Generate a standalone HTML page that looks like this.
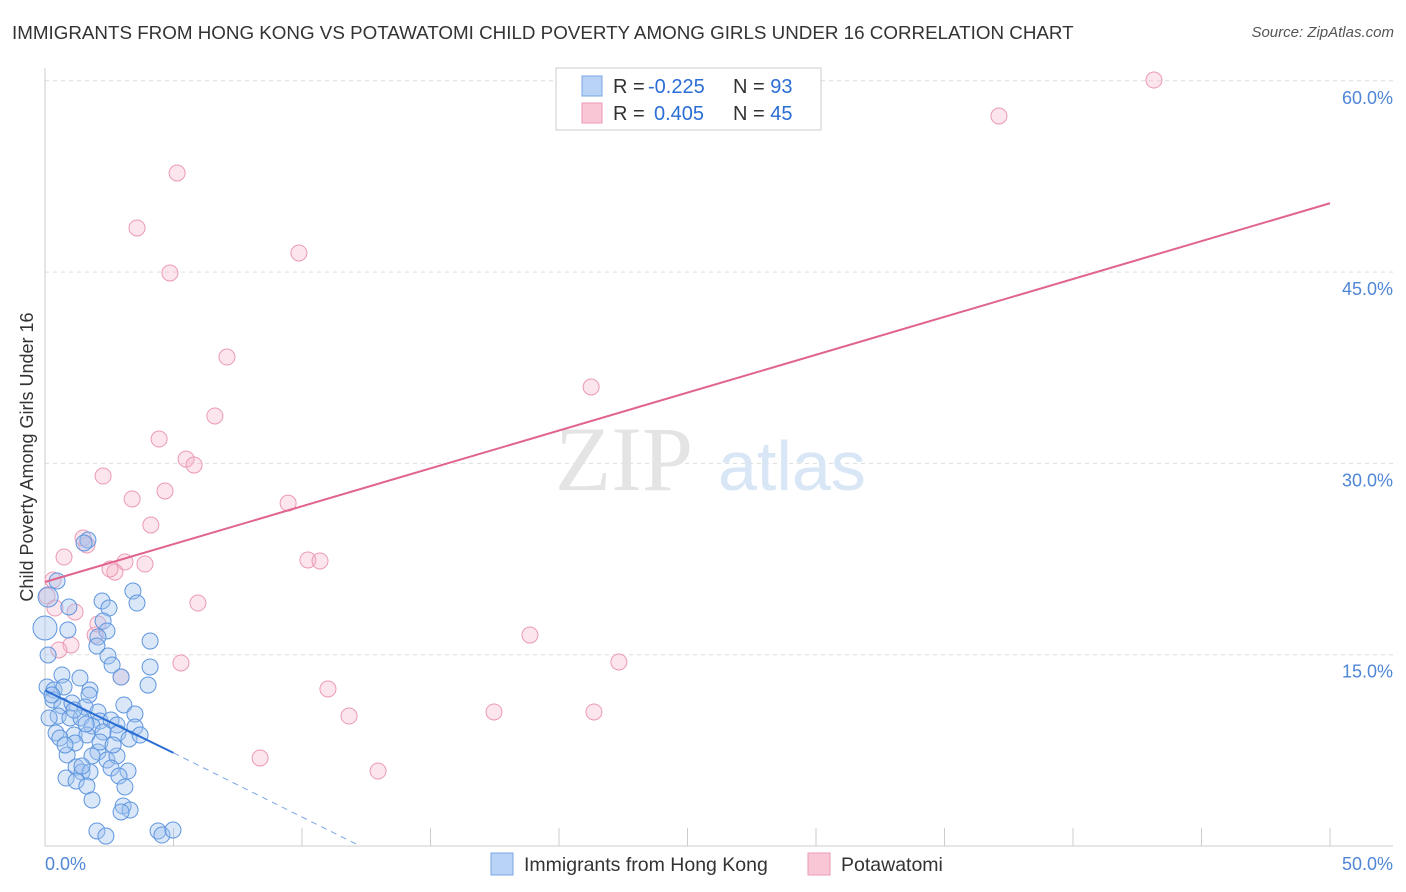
<!DOCTYPE html>
<html><head><meta charset="utf-8"><style>
body{margin:0;background:#fff;font-family:"Liberation Sans",sans-serif;}
#wrap{position:relative;width:1406px;height:892px;overflow:hidden;}
.t{position:absolute;white-space:nowrap;}
</style></head><body>
<div id="wrap">
<div class="t" style="left:12px;top:22px;font-size:18.8px;color:#333;">IMMIGRANTS FROM HONG KONG VS POTAWATOMI CHILD POVERTY AMONG GIRLS UNDER 16 CORRELATION CHART</div>
<div class="t" style="right:12px;top:24px;font-size:15px;color:#555;font-style:italic;">Source: ZipAtlas.com</div>
<svg id="chart" width="1406" height="892" style="position:absolute;left:0;top:0"></svg>
</div>
<script>
const xTicks=[0,5,10,15,20,25,30,35,40,45,50];
const yTicks=[15,30,45,60];
const blueX=[0.47,0.12,1.67,1.52,0,0.12,2.22,2.49,3.42,3.58,0.93,0.89,2.26,2.41,2.06,2.02,4.09,2.45,2.61,4.09,0.66,1.36,0.08,0.35,0.74,1.75,1.71,4.01,2.96,0.31,0.66,1.05,1.56,2.06,3.07,3.50,0.51,0.97,1.40,2.14,2.57,1.83,2.80,3.50,0.43,1.13,1.63,2.26,2.84,0.58,1.17,3.27,2.06,0.86,1.83,2.41,2.80,2.57,1.21,1.44,1.75,3.23,2.88,0.82,1.21,1.63,3.11,1.83,3.04,3.31,2.96,2.02,2.37,4.40,4.55,4.98,0.16,0.27,1.44,2.14,1.60,1.13,0.78,2.65,3.70];
const blueY=[20.78,19.52,23.99,23.76,17.09,14.98,19.21,18.66,19.99,19.05,18.74,16.94,17.64,16.86,16.39,15.68,16.07,14.90,14.19,14.04,13.41,13.17,12.47,12.23,12.47,12.23,11.84,12.62,13.25,11.45,10.98,11.21,10.90,10.51,11.06,10.35,10.19,10.04,10.04,9.80,9.88,9.41,9.49,9.33,8.86,8.70,8.70,8.94,8.86,8.47,8.08,8.39,7.37,7.14,7.06,6.74,7.06,6.12,6.19,5.80,5.80,5.88,5.49,5.33,5.10,4.70,4.63,3.61,3.14,2.82,2.67,1.18,0.78,1.18,0.86,1.25,10.04,11.84,6.27,8.15,9.57,10.66,7.92,7.92,8.70];
const pinkX=[43.15,37.12,5.14,3.58,4.86,9.88,7.08,21.25,6.61,4.44,5.49,5.80,2.26,3.39,4.67,9.46,4.12,1.48,1.63,0.74,3.11,2.72,2.53,3.89,10.23,10.70,0.31,0.08,0.39,1.17,5.95,18.87,1.95,2.06,1.01,0.54,5.29,22.33,11.01,11.83,17.47,21.36,8.37,12.96,2.96];
const pinkY=[60.06,57.24,52.77,48.46,44.93,46.50,38.34,35.99,33.72,31.91,30.34,29.87,29.01,27.21,27.84,26.89,25.17,24.15,23.60,22.66,22.27,21.48,21.72,22.11,22.43,22.35,20.86,19.60,18.66,18.35,19.05,16.54,16.54,17.41,15.76,15.37,14.35,14.43,12.31,10.19,10.51,10.51,6.90,5.88,13.25];
const pinkTrend=[[0,20.7],[50,50.4]];
const blueTrend=[[0,12.2],[5,7.3]];
const blueDash=[[5,7.3],[12.26,0]];
const X=v=>45+v/50*1285;
const Y=v=>846-v/15*191.3;
const svg=document.getElementById('chart');
const NS='http://www.w3.org/2000/svg';
function mk(tag,attrs,parent){const e=document.createElementNS(NS,tag);for(const k in attrs)e.setAttribute(k,attrs[k]);(parent||svg).appendChild(e);return e;}
for(const t of yTicks){
 const g=mk('line',{x1:45,x2:1393,y1:Y(t),y2:Y(t),stroke:'#ddd','stroke-dasharray':'4,4'});
 
 
 const l=mk('text',{x:1393,y:Y(t)+23,'text-anchor':'end','font-size':18,fill:'#4f86d6','font-family':'Liberation Sans'});
 l.textContent=t.toFixed(1)+'%';
 
 
}
const ax=mk('line',{x1:45,x2:1393,y1:846,y2:846,stroke:'#ccc'});


const ay=mk('line',{x1:45,x2:45,y1:68,y2:846,stroke:'#ccc'});


for(const t of xTicks){
 const tk=mk('line',{x1:X(t),x2:X(t),y1:828,y2:846,stroke:'#ccc'});
 
 
}
const xl0=mk('text',{x:45,y:870,'font-size':18,fill:'#4f86d6','font-family':'Liberation Sans'});xl0.textContent=xTicks[0].toFixed(1)+'%';


const xl1=mk('text',{x:1393,y:870,'text-anchor':'end','font-size':18,fill:'#4f86d6','font-family':'Liberation Sans'});xl1.textContent=xTicks[xTicks.length-1].toFixed(1)+'%';


const yt=mk('text',{x:33,y:457,'text-anchor':'middle','font-size':18,fill:'#333','font-family':'Liberation Sans',transform:'rotate(-90 33 457)'});
yt.textContent='Child Poverty Among Girls Under 16';


const wm=mk('text',{x:555,y:490,'font-size':92,fill:'#e4e4e4','font-family':'Liberation Serif'});wm.textContent='ZIP';


const wm2=mk('text',{x:718,y:490,'font-size':70,fill:'#d8e6f6','font-family':'Liberation Sans'});wm2.textContent='atlas';


pinkX.forEach((v,i)=>{
 const c=mk('circle',{cx:X(v),cy:Y(pinkY[i]),r:8,fill:'rgba(245,180,200,0.35)',stroke:'#ec9ab4','stroke-width':1});
 
 
});
blueX.forEach((v,i)=>{
 const big=(i===4)?12:(i===1?10:8);
 const c=mk('circle',{cx:X(v),cy:Y(blueY[i]),r:big,fill:'rgba(160,195,240,0.4)',stroke:'#5f96de','stroke-width':1});
 
 
});
const pt=mk('line',{x1:X(pinkTrend[0][0]),y1:Y(pinkTrend[0][1]),x2:X(pinkTrend[1][0]),y2:Y(pinkTrend[1][1]),stroke:'#e0648e','stroke-width':2});


const bt=mk('line',{x1:X(blueTrend[0][0]),y1:Y(blueTrend[0][1]),x2:X(blueTrend[1][0]),y2:Y(blueTrend[1][1]),stroke:'#2a6dd4','stroke-width':2});


const bd=mk('line',{x1:X(blueDash[0][0]),y1:Y(blueDash[0][1]),x2:X(blueDash[1][0]),y2:Y(blueDash[1][1]),stroke:'#7aa6e4','stroke-width':1,'stroke-dasharray':'6,5'});


const lg=mk('rect',{x:556,y:68,width:265,height:62,fill:'#fff',stroke:'#ccc'});


const rows=[['#b8d3f5','#7aa6e4','-0.225','93'],['#f8c6d5','#ec9ab4','0.405','45']];
rows.forEach((r,i)=>{
 const y=86+i*27;
 const sw=mk('rect',{x:582,y:y-10,width:20,height:20,fill:r[0],stroke:r[1]});
 
 
 const tx=mk('text',{x:613,y:y+7,'font-size':20,fill:'#333','font-family':'Liberation Sans'});
 tx.innerHTML='R = <tspan fill="#2a6dd4" x="'+(i?654:648)+'">'+r[2]+'</tspan><tspan x="733" fill="#333">N = </tspan><tspan fill="#2a6dd4">'+r[3]+'</tspan>';
 
 
});
[[491,'#b8d3f5','#7aa6e4','Immigrants from Hong Kong'],[808,'#f8c6d5','#ec9ab4','Potawatomi']].forEach(l=>{
 const s=mk('rect',{x:l[0],y:853,width:22,height:22,fill:l[1],stroke:l[2]});
 
 
 const t=mk('text',{x:l[0]+33,y:871,'font-size':19.5,fill:'#333','font-family':'Liberation Sans'});t.textContent=l[3];
 
 
});
</script>
</body></html>
